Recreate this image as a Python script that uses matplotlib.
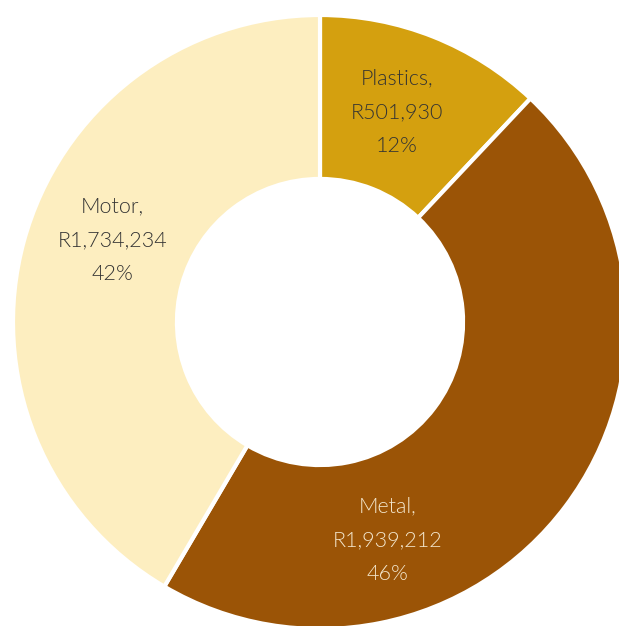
import matplotlib
matplotlib.use("Agg")
import matplotlib.pyplot as plt

# data
categories = ['Plastics', 'Metal', 'Motor']
values = [501930, 1939212, 1734234]
colors = ['#D4A00F', '#9B5406', '#FDEEC0']
text_colors = ['#333333', '#F3E6CC', '#333333']
# label centres (data coords, radius 1 = outer edge)
label_pos = [(0.25, 0.684), (0.221, -0.71), (-0.677, 0.267)]

W, H = 619, 626
cx, cy, R = 320, 322, 307

fig = plt.figure(figsize=(W / 100, H / 100), dpi=100)
ax = fig.add_axes([0, 0, 1, 1])
ax.pie(values, colors=colors, startangle=90, counterclock=False, radius=1.0,
       wedgeprops=dict(width=0.534, edgecolor='white', linewidth=3))

total = sum(values)
for name, v, (x, y), tc in zip(categories, values, label_pos, text_colors):
    pct = round(100 * v / total)
    txt = f"{name},\nR{v:,}\n{pct}%"
    ax.text(x, y, txt, ha='center', va='center', fontsize=15.5, color=tc,
            family='Lato', fontweight=300, linespacing=1.85)

ax.set_xlim(-cx / R, (W - cx) / R)
ax.set_ylim(-(H - cy) / R, cy / R)
ax.set_aspect('auto')
ax.axis('off')

fig.savefig('out.png', dpi=100)
